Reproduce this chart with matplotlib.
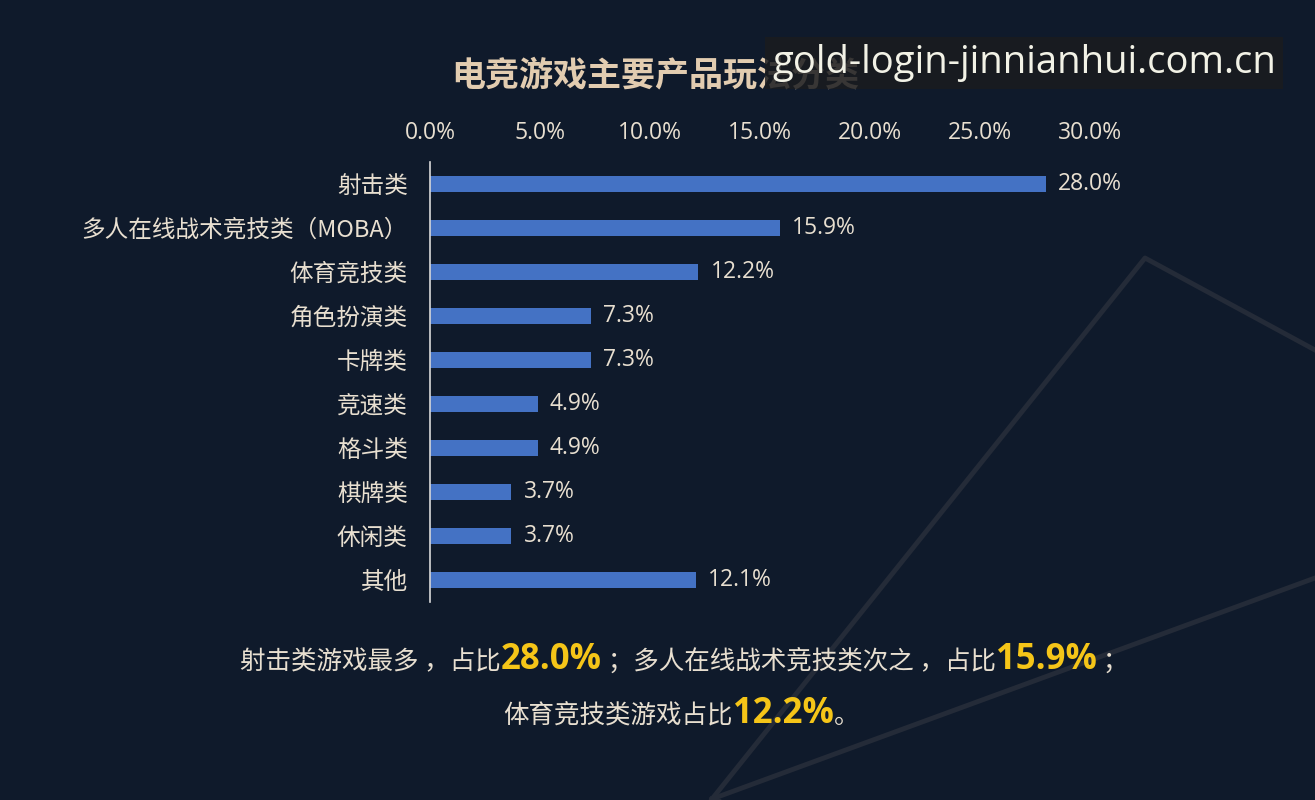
import matplotlib
matplotlib.use("Agg")
import matplotlib.pyplot as plt
from matplotlib.lines import Line2D
from matplotlib.offsetbox import TextArea, HPacker, AnchoredOffsetbox
from matplotlib.ticker import FuncFormatter, MultipleLocator

plt.rcParams['font.family'] = ['Noto Sans CJK SC', 'DejaVu Sans']

# ---- data ----
categories = ["射击类", "多人在线战术竞技类（MOBA）", "体育竞技类", "角色扮演类", "卡牌类",
              "竞速类", "格斗类", "棋牌类", "休闲类", "其他"]
values = [28.0, 15.9, 12.2, 7.3, 7.3, 4.9, 4.9, 3.7, 3.7, 12.1]
title = "电竞游戏主要产品玩法分类"
note_line1 = [("射击类游戏最多 ，占比", False), ("28.0%", True), (" ；多人在线战术竞技类次之 ，占比", False),
              ("15.9%", True), (" ；", False)]
note_line2 = [("体育竞技类游戏占比", False), ("12.2%", True), ("。", False)]
watermark = "gold-login-jinnianhui.com.cn"

BG = "#0f1a2b"
BAR = "#4472c4"
TXT = "#e8dfd0"
YEL = "#f5c518"
W, H = 1315, 800

fig = plt.figure(figsize=(W / 100, H / 100), dpi=100, facecolor=BG)

# decorative faint lines in background
def px(x, y):
    return x / W, 1 - y / H
deco = [[(712, 799), (1145, 258), (1315, 350)], [(712, 799), (1315, 578)], [(712, 799), (860, 845)]]
for seg in deco:
    xs = [px(*p)[0] for p in seg]
    ys = [px(*p)[1] for p in seg]
    fig.add_artist(Line2D(xs, ys, transform=fig.transFigure, color="#242b38", lw=3.5, zorder=0))

ax = fig.add_axes([430 / W, 1 - 602 / H, 660 / W, 440 / H])
ax.set_facecolor("none")
y = list(range(len(categories)))
bars = ax.barh(y, values, height=0.37, color=BAR, zorder=2)
ax.set_xlim(0, 30)
ax.set_ylim(len(categories) - 0.5, -0.5)
ax.set_yticks(y)
ax.set_yticklabels(categories, fontsize=17, color=TXT)
ax.xaxis.set_major_locator(MultipleLocator(5))
ax.xaxis.set_major_formatter(FuncFormatter(lambda v, p: f"{v:.1f}%"))
ax.xaxis.tick_top()
ax.tick_params(axis='x', length=0, pad=12, labelsize=16.5, labelcolor=TXT)
ax.tick_params(axis='y', length=0, pad=16)
for lab in ax.get_xticklabels():
    lab.set_family(['Open Sans', 'DejaVu Sans'])
for s in ["top", "right", "bottom"]:
    ax.spines[s].set_visible(False)
ax.spines["left"].set_color("#d8d8d8")
ax.spines["left"].set_linewidth(1.2)
for b, v in zip(bars, values):
    ax.text(v + 0.55, b.get_y() + b.get_height() / 2, f"{v:.1f}%", va="center", ha="left",
            fontsize=16.5, color=TXT, family=['Open Sans', 'DejaVu Sans'])

# title
fig.text(655 / W, 1 - 75 / H, title, ha="center", va="center", fontsize=24.5, fontweight="bold",
         color="#e2ccb0")

# bottom notes with highlighted numbers
def note(parts, xc, yc):
    boxes = []
    for s, hl in parts:
        if hl:
            props = dict(fontsize=25, fontweight="bold", color=YEL,
                         family=['Open Sans', 'Noto Sans CJK SC'])
        else:
            props = dict(fontsize=18.4, color=TXT)
        boxes.append(TextArea(s, textprops=props))
    pack = HPacker(children=boxes, align="baseline", pad=0, sep=0)
    ab = AnchoredOffsetbox(loc="center", child=pack, frameon=False,
                           bbox_to_anchor=(xc, yc), bbox_transform=fig.transFigure, borderpad=0, pad=0)
    fig.add_artist(ab)

note(note_line1, 684 / W, 1 - 660 / H)
note(note_line2, 681 / W, 1 - 714 / H)

# watermark box (semi-transparent, title shows faintly beneath as in the reference)
fig.text(1024 / W, 1 - 63 / H, watermark, ha="center", va="center", fontsize=27.5,
         color="#f2f2e6", family=['Open Sans', 'DejaVu Sans'], zorder=10,
         bbox=dict(boxstyle="square,pad=0.18", facecolor="#1a1c1f", edgecolor="none", alpha=0.85))

fig.savefig("out.png", dpi=100, facecolor=BG)
